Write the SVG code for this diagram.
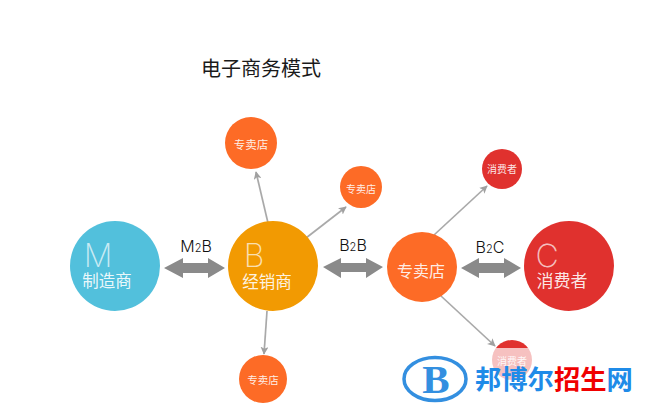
<svg xmlns="http://www.w3.org/2000/svg" width="650" height="420" viewBox="0 0 650 420">
<style>
text{font-family:"Noto Sans CJK SC","Liberation Sans",sans-serif;text-anchor:middle}
.w{fill:#fff}
.thin{fill:#fff;font-family:"Inter","Liberation Sans",sans-serif;font-weight:200;fill-opacity:.7}
.lab{fill:#111;font-family:"Inter","Liberation Sans",sans-serif;font-weight:300;font-size:16px}
.lab tspan{font-size:11px}
.c{stroke:#a9a9a9;stroke-width:1.7;fill:none;marker-end:url(#a)}
.d{fill:#8a8a8a}
</style>
<defs>
<marker id="a" viewBox="0 0 10 10" refX="9" refY="5" markerWidth="8" markerHeight="8" orient="auto" markerUnits="userSpaceOnUse"><path d="M0 0L10 5L0 10L2.5 5Z" fill="#a0a0a0"/></marker>
</defs>
<rect width="650" height="420" fill="#fff"/>
<text id="title" x="261" y="76" font-size="20" fill="#1a1a1a">电子商务模式</text>
<g id="connectors">
<path class="c" d="M268 223L256 172"/>
<path class="c" d="M306 238L346 207"/>
<path class="c" d="M267 311L264 354"/>
<path class="c" d="M434 235L487 186"/>
<path class="c" d="M441 296L495 346"/>
<path class="d" d="M164 268L183 258V263H208V258L225 268L208 278V273H183V278Z"/>
<path class="d" d="M323 267L341 258V263H366V258L383 267L366 278V272H341V278Z"/>
<path class="d" d="M461 268L479 258V263H504V258L521 268L504 278V273H479V278Z"/>
</g>
<text class="lab" x="196" y="252">M<tspan>2</tspan>B</text>
<text class="lab" x="353" y="251">B<tspan>2</tspan>B</text>
<text class="lab" x="490" y="253">B<tspan>2</tspan>C</text>
<g id="m"><circle cx="115" cy="266" r="45" fill="#52c0dc"/><text class="thin" x="98" y="267" font-size="32">M</text><text class="w" x="107" y="287" font-size="16.5" fill-opacity=".9">制造商</text></g>
<g id="b"><circle cx="273" cy="266" r="45" fill="#f29a02"/><text class="thin" x="254" y="267" font-size="32">B</text><text class="w" x="267" y="288" font-size="16.5" fill-opacity=".9">经销商</text></g>
<g id="store"><circle cx="422" cy="267" r="35" fill="#fd6b26"/><text class="w" x="421" y="277" font-size="16" fill-opacity=".9">专卖店</text></g>
<g id="c"><circle cx="569" cy="266" r="45" fill="#e0312e"/><text class="thin" x="547" y="267" font-size="32">C</text><text class="w" x="562" y="287" font-size="17" fill-opacity=".9">消费者</text></g>
<g id="s1"><circle cx="251" cy="143" r="26" fill="#fd6b26"/><text class="w" x="251" y="149" font-size="11.5" fill-opacity=".9">专卖店</text></g>
<g id="s2"><circle cx="361" cy="187" r="21" fill="#fd6b26"/><text class="w" x="361" y="193" font-size="10" fill-opacity=".9">专卖店</text></g>
<g id="s3"><circle cx="263" cy="379" r="24" fill="#fd6b26"/><text class="w" x="263" y="384" font-size="10.5" fill-opacity=".9">专卖店</text></g>
<g id="c1"><circle cx="502" cy="169" r="20" fill="#e0312e"/><text class="w" x="502" y="173" font-size="10" fill-opacity=".9">消费者</text></g>
<g id="c2"><circle cx="512" cy="360" r="20" fill="#e0312e"/><text class="w" x="512" y="365" font-size="10" fill-opacity=".9">消费者</text></g>
<g id="watermark">
<rect x="470" y="348" width="80" height="40" fill="#fff" fill-opacity=".7"/>
<ellipse cx="435" cy="379" rx="31" ry="21.500" fill="none" stroke="#338fe0" stroke-width="3.500"/>
<text x="436" y="393" font-size="41" font-weight="700" style="font-family:'Liberation Serif',serif" fill="#338fe0">B</text>
<text x="475" y="389" font-size="26.300" font-weight="700" style="text-anchor:start" fill="#1f8be8">邦博尔<tspan fill="#f00000">招生</tspan>网</text>
</g>
</svg>
